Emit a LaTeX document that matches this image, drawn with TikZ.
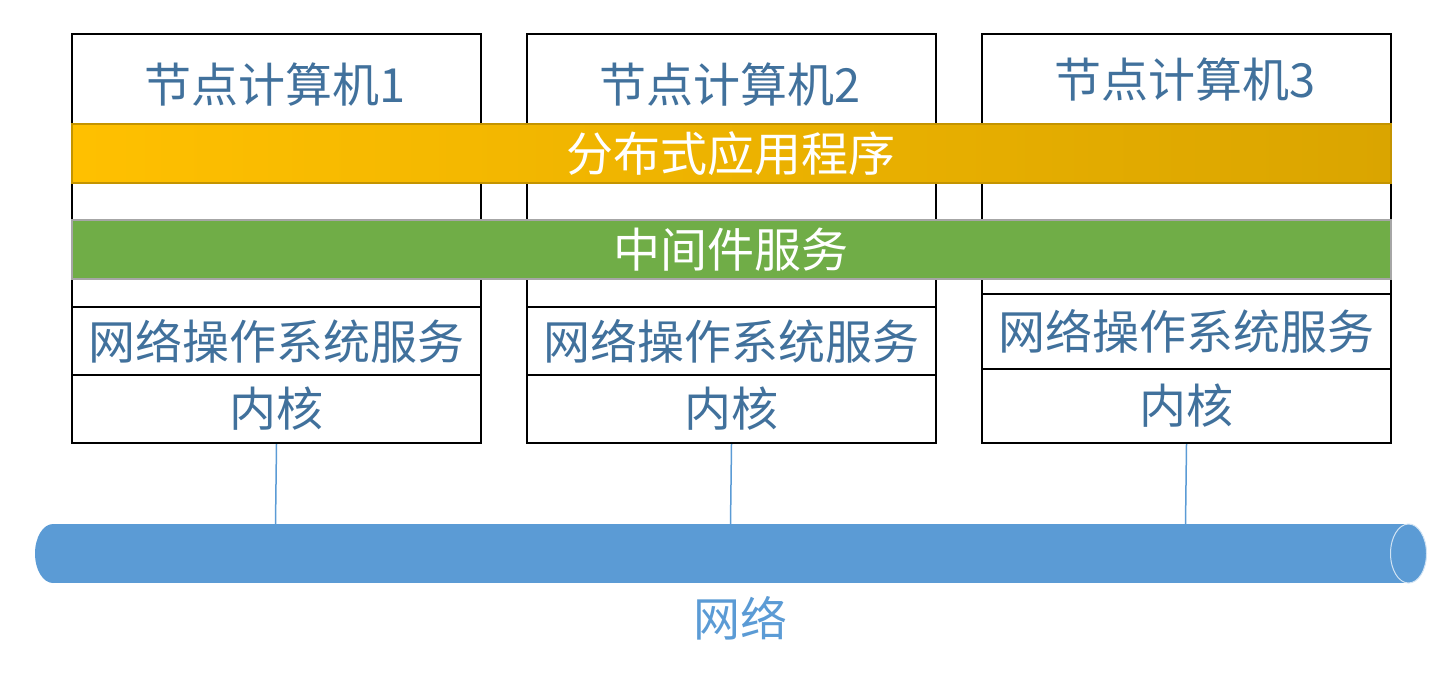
\documentclass[tikz,border=0pt]{standalone}
\usepackage{fontspec}
\newfontfamily\cjk{Noto Sans CJK SC}
\definecolor{txtblue}{HTML}{41719C}
\definecolor{netblue}{HTML}{5B9BD5}
\definecolor{goldL}{HTML}{FFC000}
\definecolor{goldR}{HTML}{DAA500}
\definecolor{goldB}{HTML}{C49400}
\definecolor{mwgreen}{HTML}{70AD47}
\begin{document}
\begin{tikzpicture}[x=1pt,y=-1pt,
  part/.style={draw=black, line width=2pt, minimum width=409pt, inner sep=0pt, anchor=north west},
  lbl/.style={text=txtblue, font=\cjk\fontsize{47}{52}\selectfont, inner sep=0pt},
  barlbl/.style={text=white, font=\cjk\fontsize{47}{52}\selectfont, inner sep=0pt},
  bar/.style={minimum width=1319pt, minimum height=59pt, inner sep=0pt, anchor=north west},
  link/.style={draw=netblue, line width=1.5pt}]
\useasboundingbox (0,0) rectangle (1453,683);

% node computers 1 and 2
\node[part, minimum height=273pt] (top1) at (71,33) {};
\node[part, minimum height=68pt] (nos1) at (71,306) {};
\node[part, minimum height=68pt] (k1) at (71,374) {};
\node[part, minimum height=273pt] (top2) at (526,33) {};
\node[part, minimum height=68pt] (nos2) at (526,306) {};
\node[part, minimum height=68pt] (k2) at (526,374) {};
% node computer 3
\node[part, minimum height=260pt] (top3) at (981,33) {};
\node[part, minimum height=75pt] (nos3) at (981,293) {};
\node[part, minimum height=74pt] (k3) at (981,368) {};

\node[lbl] (t1) at (275.5,85) {节点计算机1};
\node[lbl] (t2) at (730.5,85) {节点计算机2};
\node[lbl] (t3) at (1185.5,80) {节点计算机3};
\node[lbl] (n1) at (nos1.center) {网络操作系统服务};
\node[lbl] (n2) at (nos2.center) {网络操作系统服务};
\node[lbl] (n3) at (nos3.center) {网络操作系统服务};
\node[lbl] (kl1) at (k1.center) {内核};
\node[lbl] (kl2) at (k2.center) {内核};
\node[lbl] (kl3) at (k3.center) {内核};

% shared layers across all nodes
\node[bar, draw=goldB, line width=1.5pt, left color=goldL, right color=goldR] (app) at (71,123) {};
\node[barlbl] (appl) at (app.center) {分布式应用程序};
\node[bar, draw=gray!70, line width=1.5pt, fill=mwgreen] (mw) at (71,219) {};
\node[barlbl] (mwl) at (mw.center) {中间件服务};

% network cylinder: body plus rounded ends
\fill[netblue] (53,524) rectangle (1408.5,583);
\fill[netblue] (53,553.5) ellipse[x radius=18, y radius=29.5];
\fill[netblue] (1408.5,553.5) ellipse[x radius=18, y radius=29.5];
\draw[white!72!netblue, line width=1pt] (1408.5,553.5) ellipse[x radius=18, y radius=29.5];
\coordinate (p1) at (275.5,524);
\coordinate (p2) at (730.5,524);
\coordinate (p3) at (1185.5,524);
\node[text=netblue, font=\cjk\fontsize{47}{52}\selectfont, inner sep=0pt] (netl) at (740,618) {网络};

% links from each kernel to the network
\draw[link] (k1.south) -- (p1);
\draw[link] (k2.south) -- (p2);
\draw[link] (k3.south) -- (p3);
\end{tikzpicture}
\end{document}
